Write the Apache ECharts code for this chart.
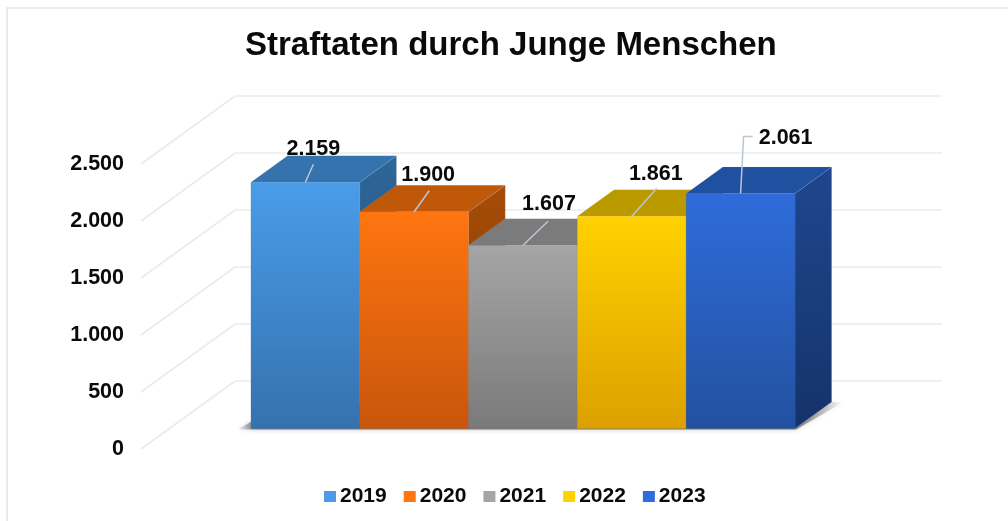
<!DOCTYPE html>
<html>
<head>
<meta charset="utf-8">
<script src="https://cdn.jsdelivr.net/npm/echarts@6/dist/echarts.min.js"></script>
<style>html,body{margin:0;padding:0;background:#fff}#c{width:1008px;height:521px}</style>
</head>
<body>
<div id="c"></div>
<script>
var titleText = 'Straftaten durch Junge Menschen';
var categories = ['Straftaten'];
var years = ['2019', '2020', '2021', '2022', '2023'];
var values = [2159, 1900, 1607, 1861, 2061];
var valueLabels = ['2.159', '1.900', '1.607', '1.861', '2.061'];
var ticks = [0, 500, 1000, 1500, 2000, 2500];
var tickLabels = ['0', '500', '1.000', '1.500', '2.000', '2.500'];

// styling and layout, separate from the data
var frontColors = [['#4a9ce9', '#3571ae'], ['#ff7510', '#c8560c'], ['#a5a5a5', '#7a7a7a'], ['#ffd200', '#dda000'], ['#2f6cdb', '#22519f']];
var topColors = ['#3573ae', '#c0580a', '#7b7b7b', '#bb9a00', '#2050a0'];
var sideColors = [['#2e6699', '#234f78'], ['#a64c08', '#7f3a06'], ['#666', '#555'], ['#9e8200', '#806a00'], ['#1f468e', '#15336a']];
var leaderPaths = [[[8, -18]], [[15, -21]], [[25, -24]], [[25, -28]], [[3, -57], [12, -57]]];
var labelOffsets = [[8, -33], [14, -37], [26, -41], [24, -42], [45, -55]];
var wallDepth = [94, -68];
var barNear = 0.303, barSpan = 0.39, plotShare = 0.7695;
var BLACK = '#0a0a0a';
var FONT = '"Liberation Sans", Arial, sans-serif';

function barGeom(api, i, v) {
  var base = api.coord([0, 0]);
  var top = api.coord([0, v]);
  var band = api.size([1, 0])[0];
  var w = band * plotShare / years.length;
  var sx = wallDepth[0] * barNear, sy = wallDepth[1] * barNear;
  var cx = base[0] + sx + (i - (years.length - 1) / 2) * w;
  return { cx: cx, l: cx - w / 2, r: cx + w / 2, t: top[1] + sy, b: base[1] + sy,
           dx: wallDepth[0] * barSpan, dy: wallDepth[1] * barSpan };
}

function grad(c) {
  return new echarts.graphic.LinearGradient(0, 0, 0, 1, [{ offset: 0, color: c[0] }, { offset: 1, color: c[1] }]);
}

var series = [];

// back and side wall grid lines, one per tick
series.push({
  type: 'custom', name: 'walls', z: 1, silent: true, clip: false,
  data: ticks.map(function (t) { return [0, t]; }),
  encode: { x: 0, y: 1 },
  renderItem: function (params, api) {
    var p = api.coord([0, api.value(1)]);
    var cs = params.coordSys;
    return { type: 'polyline',
      shape: { points: [[cs.x, p[1]], [cs.x + wallDepth[0], p[1] + wallDepth[1]], [cs.x + cs.width + wallDepth[0], p[1] + wallDepth[1]]] },
      style: { fill: null, stroke: '#e8ebf2', lineWidth: 1.7 } };
  }
});

// floor shadow beneath the whole block of bars
series.push({
  type: 'custom', name: 'shadow', z: 2, silent: true, clip: false,
  data: [[0, 0]],
  encode: { x: 0, y: 1 },
  renderItem: function (params, api) {
    var a = barGeom(api, 0, 0), z = barGeom(api, years.length - 1, 0);
    var fade = new echarts.graphic.LinearGradient(0, 0, 1, 0, [
      { offset: 0, color: 'rgba(90,90,90,0)' }, { offset: 0.03, color: 'rgba(90,90,90,0.75)' },
      { offset: 0.92, color: 'rgba(90,90,90,0.75)' }, { offset: 1, color: 'rgba(90,90,90,0)' }]);
    return { type: 'polygon',
      shape: { points: [[a.l - 14, a.b + 1], [z.r + 1, a.b + 1], [z.r + z.dx + 12, a.b + z.dy], [a.l + a.dx, a.b + z.dy]] },
      style: { fill: fade, shadowBlur: 5, shadowColor: 'rgba(90,90,90,0.45)' } };
  }
});

// one 3D block per year
years.forEach(function (year, i) {
  series.push({
    type: 'custom', name: year, z: 3 + i, clip: false, silent: true,
    itemStyle: { color: frontColors[i][0], borderWidth: 0 },
    data: [[0, values[i]]],
    encode: { x: 0, y: 1 },
    renderItem: function (params, api) {
      var g = barGeom(api, i, api.value(1));
      var edge = 'rgba(170,190,220,0.35)';
      var leader = [[g.cx, g.t]].concat(leaderPaths[i].map(function (o) { return [g.cx + o[0], g.t + o[1]]; }));
      return { type: 'group', children: [
        { type: 'polygon', shape: { points: [[g.r, g.t], [g.r + g.dx, g.t + g.dy], [g.r + g.dx, g.b + g.dy], [g.r, g.b]] },
          style: { fill: grad(sideColors[i]), stroke: edge, lineWidth: 0.6 } },
        { type: 'polygon', shape: { points: [[g.l, g.t], [g.l + g.dx, g.t + g.dy], [g.r + g.dx, g.t + g.dy], [g.r, g.t]] },
          style: { fill: topColors[i], stroke: edge, lineWidth: 0.3 } },
        { type: 'polygon', shape: { points: [[g.l, g.t], [g.r, g.t], [g.r, g.b], [g.l, g.b]] },
          style: { fill: grad(frontColors[i]), stroke: frontColors[i][1], lineWidth: 0.2 } },
        { type: 'polyline', shape: { points: leader },
          style: { fill: null, stroke: '#bcc5d2', lineWidth: 1.5 } },
        { type: 'text', style: { text: valueLabels[i], x: g.cx + labelOffsets[i][0], y: g.t + labelOffsets[i][1],
            align: 'center', verticalAlign: 'middle', fill: BLACK, font: 'bold 21.5px ' + FONT } }
      ] };
    }
  });
});

var chart = echarts.init(document.getElementById('c'), null, { renderer: 'canvas' });
chart.setOption({
  animation: false,
  backgroundColor: '#fff',
  title: { text: titleText, left: 240, top: 24,
    textStyle: { color: BLACK, fontFamily: FONT, fontWeight: 'bold', fontSize: 33 } },
  grid: { left: 141, right: 160, top: 164, bottom: 72 },
  xAxis: { type: 'category', data: categories, show: false },
  yAxis: { type: 'value', min: 0, max: 2500, interval: 500,
    axisLine: { show: false }, axisTick: { show: false }, splitLine: { show: false },
    axisLabel: { margin: 17, color: BLACK, fontFamily: FONT, fontWeight: 'bold', fontSize: 21.5,
      formatter: function (v) { return tickLabels[ticks.indexOf(v)]; } } },
  legend: { data: years, left: 319, top: 481, itemWidth: 12, itemHeight: 11, itemGap: 17, icon: 'rect',
    itemStyle: { borderWidth: 0 },
    textStyle: { color: BLACK, fontFamily: FONT, fontWeight: 'bold', fontSize: 21, padding: [0, 0, 0, -1] } },
  graphic: [{ type: 'rect', silent: true, z: 0, shape: { x: 7, y: 8, width: 1020, height: 530 },
    style: { fill: '#fff', stroke: '#e3e6ee', lineWidth: 1.6 } }],
  series: series
});
</script>
</body>
</html>
